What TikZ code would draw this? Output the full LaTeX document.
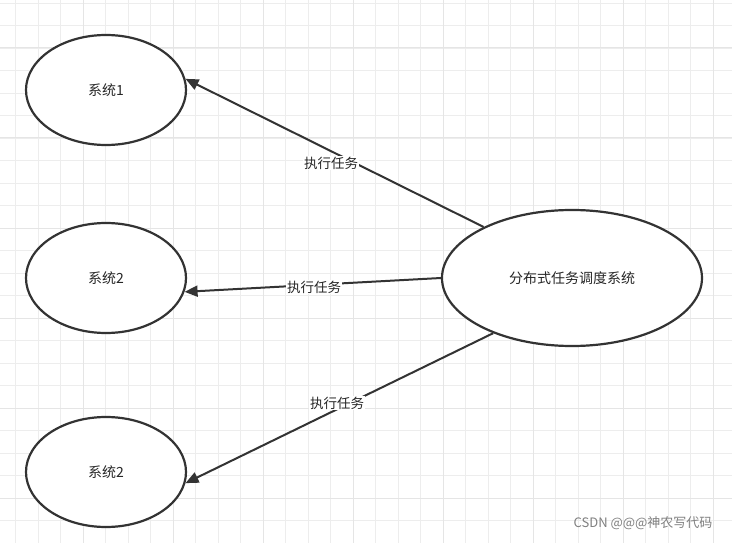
\documentclass[tikz,border=0pt]{standalone}
\usepackage{fontspec}
\setmainfont{Noto Sans CJK SC}
\usetikzlibrary{arrows.meta,shapes.geometric}
\begin{document}
\begin{tikzpicture}[x=1pt,y=-1pt,
  sys/.style={draw=black!80,line width=2.2pt,ellipse,fill=white,inner sep=0pt,font=\fontsize{14}{16}\selectfont,text=black!85},
  conn/.style={draw=black!80,line width=2pt,-{Triangle[length=13pt,width=11pt]}},
  lab/.style={fill=white,inner sep=1pt,font=\fontsize{13.5}{16}\selectfont,text=black!85}]
\useasboundingbox (0,0) rectangle (732,543);
\fill[white] (0,0) rectangle (732,543);
\foreach \i in {0,...,32} {
  \pgfmathsetmacro\xx{15.5+22.5*\i}
  \draw[black!7,line width=0.8pt] (\xx,0) -- (\xx,543);
}
\foreach \i in {0,...,24} {
  \pgfmathsetmacro\yy{3+22.5*\i}
  \draw[black!7,line width=0.8pt] (0,\yy) -- (732,\yy);
}
\foreach \i in {0,...,8} {
  \pgfmathsetmacro\xx{83+90*\i}
  \draw[black!10,line width=1pt] (\xx,0) -- (\xx,543);
}
\foreach \i in {0,...,6} {
  \pgfmathsetmacro\yy{48+90*\i}
  \draw[black!10,line width=1pt] (0,\yy) -- (732,\yy);
}
\node[sys,minimum width=160pt,minimum height=110pt] (s1) at (106,90) {系统1};
\node[sys,minimum width=160pt,minimum height=110pt] (s2) at (106,278) {系统2};
\node[sys,minimum width=160pt,minimum height=110pt] (s3) at (106,472) {系统2};
\node[sys,minimum width=260pt,minimum height=136pt] (m) at (572,278) {分布式任务调度系统};
\draw[conn] (m.150) -- (s1.8);
\draw[conn] (m.west) -- (s2.-10);
\draw[conn] (m.-145) -- (s3.-8);
\node[lab] (l1) at (331,163) {执行任务};
\node[lab] (l2) at (314,287) {执行任务};
\node[lab] (l3) at (337,403) {执行任务};
\node[font=\fontsize{13}{15}\selectfont,text=black!50,anchor=east] (w) at (716,523) {CSDN @@@神农写代码};
\end{tikzpicture}
\end{document}
